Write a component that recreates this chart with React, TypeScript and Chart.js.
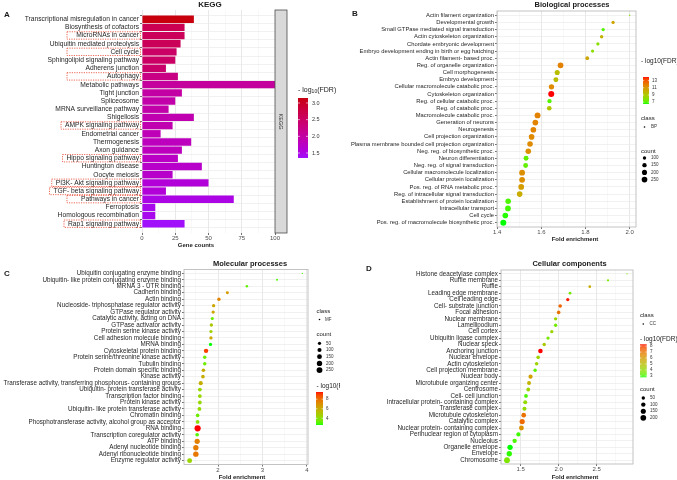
import React, { useEffect, useRef } from "react";
import { Chart, registerables } from "chart.js";

Chart.register(...registerables);

const FONT = "'Liberation Sans', Arial, Helvetica, sans-serif";

// ---------------- Panel A : KEGG ----------------
const keggPathways = [
  "Transcriptional misregulation in cancer",
  "Biosynthesis of cofactors",
  "MicroRNAs in cancer",
  "Ubiquitin mediated proteolysis",
  "Cell cycle",
  "Sphingolipid signaling pathway",
  "Adherens junction",
  "Autophagy",
  "Metabolic pathways",
  "Tight junction",
  "Spliceosome",
  "MRNA surveillance pathway",
  "Shigellosis",
  "AMPK signaling pathway",
  "Endometrial cancer",
  "Thermogenesis",
  "Axon guidance",
  "Hippo signaling pathway",
  "Huntington disease",
  "Oocyte meiosis",
  "PI3K- Akt signaling pathway",
  "TGF- beta signaling pathway",
  "Pathways in cancer",
  "Ferroptosis",
  "Homologous recombination",
  "Rap1 signaling pathway",
];
const keggGeneCounts = [39, 32, 32, 29, 26, 25, 18, 27, 100, 30, 25, 20, 39, 23, 14, 37, 30, 27, 45, 23, 50, 18, 69, 10, 10, 32];
const keggLogFdr = [3.15, 2.65, 2.6, 2.6, 2.5, 2.5, 2.45, 2.25, 2.05, 2.0, 1.95, 1.95, 1.9, 1.9, 1.85, 1.8, 1.8, 1.75, 1.7, 1.7, 1.6, 1.6, 1.5, 1.45, 1.45, 1.35];
const keggHighlighted = [
  "MicroRNAs in cancer",
  "Cell cycle",
  "Autophagy",
  "AMPK signaling pathway",
  "Hippo signaling pathway",
  "PI3K- Akt signaling pathway",
  "TGF- beta signaling pathway",
  "Pathways in cancer",
  "Rap1 signaling pathway",
];
const keggMajorTicks = [0, 25, 50, 75, 100];
const keggMinorTicks = [12.5, 37.5, 62.5, 87.5];
const keggLegendTicks = [1.5, 2.0, 2.5, 3.0];

// ---------------- Panel B : Biological processes ----------------
const bpTerms = [
  "Actin filament organization",
  "Developmental growth",
  "Small GTPase mediated signal transduction",
  "Actin cytoskeleton organization",
  "Chordate embryonic development",
  "Embryo development ending in birth or egg hatching",
  "Actin filament- based proc.",
  "Reg. of organelle organization",
  "Cell morphogenesis",
  "Embryo development",
  "Cellular macromolecule catabolic proc.",
  "Cytoskeleton organization",
  "Reg. of cellular catabolic proc.",
  "Reg. of catabolic proc.",
  "Macromolecule catabolic proc.",
  "Generation of neurons",
  "Neurogenesis",
  "Cell projection organization",
  "Plasma membrane bounded cell projection organization",
  "Neg. reg. of biosynthetic proc.",
  "Neuron differentiation",
  "Neg. reg. of signal transduction",
  "Cellular macromolecule localization",
  "Cellular protein localization",
  "Pos. reg. of RNA metabolic proc.",
  "Reg. of intracellular signal transduction",
  "Establishment of protein localization",
  "Intracellular transport",
  "Cell cycle",
  "Pos. reg. of macromolecule biosynthetic proc.",
];
const bpFold = [2.0, 1.925, 1.88, 1.873, 1.856, 1.832, 1.808, 1.687, 1.672, 1.666, 1.646, 1.645, 1.637, 1.636, 1.583, 1.573, 1.564, 1.556, 1.549, 1.541, 1.531, 1.529, 1.513, 1.513, 1.509, 1.502, 1.45, 1.449, 1.437, 1.428];
const bpLogFdr = [8.0, 10.5, 7.0, 10.0, 8.0, 8.0, 10.5, 11.8, 9.5, 9.5, 11.5, 14.0, 7.0, 9.2, 11.8, 11.7, 11.7, 11.5, 11.5, 11.3, 7.2, 7.2, 11.3, 11.3, 10.8, 10.2, 6.9, 6.8, 6.6, 6.5];
const bpCount = [60, 95, 100, 100, 95, 95, 115, 250, 200, 190, 220, 280, 150, 170, 270, 250, 250, 245, 240, 240, 190, 185, 265, 260, 255, 245, 235, 250, 245, 275];
const bpMajorTicks = [1.4, 1.6, 1.8, 2.0];
const bpMinorTicks = [1.5, 1.7, 1.9];
const bpFdrTicks = [7, 9, 11, 13];
const bpCountTicks = [100, 150, 200, 250];

// ---------------- Panel C : Molecular processes ----------------
const mfTerms = [
  "Ubiquitin conjugating enzyme binding",
  "Ubiquitin- like protein conjugating enzyme binding",
  "MRNA 3 - UTR binding",
  "Cadherin binding",
  "Actin binding",
  "Nucleoside- triphosphatase regulator activity",
  "GTPase regulator activity",
  "Catalytic activity, acting on DNA",
  "GTPase activator activity",
  "Protein serine kinase activity",
  "Cell adhesion molecule binding",
  "MRNA binding",
  "Cytoskeletal protein binding",
  "Protein serine/threonine kinase activity",
  "Tubulin binding",
  "Protein domain specific binding",
  "Kinase activity",
  "Transferase activity, transferring phosphorus- containing groups",
  "Ubiquitin- protein transferase activity",
  "Transcription factor binding",
  "Protein kinase activity",
  "Ubiquitin- like protein transferase activity",
  "Chromatin binding",
  "Phosphotransferase activity, alcohol group as acceptor",
  "RNA binding",
  "Transcription coregulator activity",
  "ATP binding",
  "Adenyl nucleotide binding",
  "Adenyl ribonucleotide binding",
  "Enzyme regulator activity",
];
const mfFold = [3.9, 3.33, 2.65, 2.21, 2.02, 1.9, 1.89, 1.87, 1.85, 1.84, 1.84, 1.83, 1.73, 1.7, 1.7, 1.67, 1.66, 1.61, 1.59, 1.59, 1.59, 1.58, 1.54, 1.54, 1.54, 1.53, 1.53, 1.5, 1.5, 1.36];
const mfLogFdr = [3.0, 3.0, 3.2, 6.6, 7.3, 6.2, 6.2, 3.3, 5.0, 4.5, 6.2, 2.6, 9.0, 3.4, 3.4, 6.0, 6.0, 6.0, 4.3, 4.3, 4.3, 4.2, 3.4, 4.0, 9.5, 3.1, 7.5, 7.6, 7.8, 4.4];
const mfCount = [10, 15, 25, 40, 60, 55, 55, 45, 55, 50, 55, 50, 120, 60, 60, 70, 70, 100, 80, 80, 80, 80, 70, 75, 290, 70, 190, 200, 200, 160];
const mfMajorTicks = [2, 3, 4];
const mfMinorTicks = [1.5, 2.5, 3.5];
const mfFdrTicks = [4, 6, 8];
const mfCountTicks = [50, 100, 150, 200, 250];

// ---------------- Panel D : Cellular components ----------------
const ccTerms = [
  "Histone deacetylase complex",
  "Ruffle membrane",
  "Ruffle",
  "Leading edge membrane",
  "Cell leading edge",
  "Cell- substrate junction",
  "Focal adhesion",
  "Nuclear membrane",
  "Lamellipodium",
  "Cell cortex",
  "Ubiquitin ligase complex",
  "Nuclear speck",
  "Anchoring junction",
  "Nuclear envelope",
  "Actin cytoskeleton",
  "Cell projection membrane",
  "Nuclear body",
  "Microtubule organizing center",
  "Centrosome",
  "Cell- cell junction",
  "Intracellular protein- containing complex",
  "Transferase complex",
  "Microtubule cytoskeleton",
  "Catalytic complex",
  "Nuclear protein- containing complex",
  "Perinuclear region of cytoplasm",
  "Nucleolus",
  "Organelle envelope",
  "Envelope",
  "Chromosome",
];
const ccFold = [2.9, 2.65, 2.41, 2.15, 2.12, 2.02, 2.0, 1.96, 1.96, 1.91, 1.86, 1.81, 1.76, 1.73, 1.71, 1.69, 1.63, 1.61, 1.6, 1.57, 1.56, 1.55, 1.54, 1.52, 1.51, 1.47, 1.42, 1.36, 1.35, 1.32];
const ccLogFdr = [3.5, 3.5, 5.5, 3.5, 8.2, 7.3, 7.0, 4.2, 3.4, 4.2, 3.5, 4.6, 8.3, 4.2, 4.2, 3.2, 5.8, 5.3, 4.2, 3.0, 4.0, 4.0, 7.0, 7.2, 6.2, 2.9, 3.0, 2.7, 2.8, 3.6];
const ccCount = [8, 15, 25, 30, 45, 60, 60, 45, 45, 45, 45, 50, 110, 55, 55, 50, 90, 75, 70, 65, 80, 85, 120, 160, 130, 90, 100, 170, 170, 210];
const ccMajorTicks = [1.5, 2.0, 2.5];
const ccMinorTicks = [1.25, 1.75, 2.25, 2.75];
const ccFdrTicks = [3, 4, 5, 6, 7, 8];
const ccCountTicks = [50, 100, 150, 200];

// ---------------- colour / size helpers ----------------
type RGB = [number, number, number];
const hexRgb = (h: string): RGB => [parseInt(h.slice(1, 3), 16), parseInt(h.slice(3, 5), 16), parseInt(h.slice(5, 7), 16)];
const toLin = (c: number) => { c /= 255; return c <= 0.04045 ? c / 12.92 : Math.pow((c + 0.055) / 1.055, 2.4); };
const fromLin = (c: number) => { const v = c <= 0.0031308 ? 12.92 * c : 1.055 * Math.pow(Math.max(c, 0), 1 / 2.4) - 0.055; return Math.round(Math.min(1, Math.max(0, v)) * 255); };
const XN = 0.95047, YN = 1, ZN = 1.08883;
const fLab = (t: number) => (t > 0.008856 ? Math.cbrt(t) : 7.787 * t + 16 / 116);
const fInv = (t: number) => (t * t * t > 0.008856 ? t * t * t : (t - 16 / 116) / 7.787);
function rgb2lab([r, g, b]: RGB): RGB {
  const R = toLin(r), G = toLin(g), B = toLin(b);
  const X = (0.4124 * R + 0.3576 * G + 0.1805 * B) / XN;
  const Y = (0.2126 * R + 0.7152 * G + 0.0722 * B) / YN;
  const Z = (0.0193 * R + 0.1192 * G + 0.9505 * B) / ZN;
  const fx = fLab(X), fy = fLab(Y), fz = fLab(Z);
  return [116 * fy - 16, 500 * (fx - fy), 200 * (fy - fz)];
}
function lab2rgb([L, a, b]: RGB): RGB {
  const fy = (L + 16) / 116, fx = fy + a / 500, fz = fy - b / 200;
  const X = XN * fInv(fx), Y = YN * fInv(fy), Z = ZN * fInv(fz);
  return [
    fromLin(3.2406 * X - 1.5372 * Y - 0.4986 * Z),
    fromLin(-0.9689 * X + 1.8758 * Y + 0.0415 * Z),
    fromLin(0.0557 * X - 0.204 * Y + 1.057 * Z),
  ];
}
function gradient(low: string, high: string, values: number[]) {
  const lo = rgb2lab(hexRgb(low)), hi = rgb2lab(hexRgb(high));
  const vMin = Math.min(...values), vMax = Math.max(...values);
  const fn = (v: number) => {
    const t = Math.max(0, Math.min(1, (v - vMin) / (vMax - vMin)));
    const c = lab2rgb([lo[0] + (hi[0] - lo[0]) * t, lo[1] + (hi[1] - lo[1]) * t, lo[2] + (hi[2] - lo[2]) * t]);
    return `rgb(${c[0]},${c[1]},${c[2]})`;
  };
  return { fn, vMin, vMax };
}
function sizeScale(values: number[], rMin: number, rMax: number) {
  const cMin = Math.min(...values), cMax = Math.max(...values);
  return (c: number) => rMin + (rMax - rMin) * Math.sqrt(Math.max(0, (c - cMin) / (cMax - cMin)));
}
function expanded(values: number[]) {
  const mn = Math.min(...values), mx = Math.max(...values);
  const pad = (mx - mn) * 0.05;
  return [mn - pad, mx + pad];
}

function text(ctx: any, s: string, x: number, y: number, size: number, o: any = {}) {
  ctx.save();
  ctx.font = `${o.bold ? "bold " : ""}${size}px ${FONT}`;
  ctx.fillStyle = o.color || "#1a1a1a";
  ctx.textAlign = o.align || "left";
  ctx.textBaseline = o.baseline || "middle";
  ctx.fillText(s, x, y);
  ctx.restore();
}
function colorBar(ctx: any, x: number, y: number, w: number, h: number, g: any, ticks: number[], labelX: number, fmt: (v: number) => string, fs: number) {
  ctx.save();
  const n = Math.round(h);
  for (let i = 0; i < n; i++) {
    const v = g.vMax - ((i + 0.5) / n) * (g.vMax - g.vMin);
    ctx.fillStyle = g.fn(v);
    ctx.fillRect(x, y + i, w, 1);
  }
  ticks.forEach((t) => {
    const ty = y + ((g.vMax - t) / (g.vMax - g.vMin)) * h;
    ctx.strokeStyle = "#ffffff";
    ctx.lineWidth = 0.6;
    ctx.beginPath();
    ctx.moveTo(x, ty); ctx.lineTo(x + w * 0.2, ty);
    ctx.moveTo(x + w * 0.8, ty); ctx.lineTo(x + w, ty);
    ctx.stroke();
    text(ctx, fmt(t), labelX, ty, fs, { color: "#333" });
  });
  ctx.restore();
}
function dot(ctx: any, x: number, y: number, r: number, color = "#000") {
  ctx.save();
  ctx.fillStyle = color;
  ctx.beginPath();
  ctx.arc(x, y, r, 0, Math.PI * 2);
  ctx.fill();
  ctx.restore();
}

// ---------------- axis builders ----------------
function xAxis(min: number, max: number, majors: number[], minors: number[], fmt: (v: number) => string, height: number) {
  const all = [...majors, ...minors].filter((v) => v >= min - 1e-9 && v <= max + 1e-9).sort((a, b) => a - b);
  const isMajor = (v: number) => majors.some((m) => Math.abs(m - v) < 1e-9);
  return {
    type: "linear",
    position: "bottom",
    min,
    max,
    afterBuildTicks: (s: any) => { s.ticks = all.map((v) => ({ value: v })); },
    afterFit: (s: any) => { s.height = height; },
    ticks: {
      autoSkip: false, maxRotation: 0, minRotation: 0, padding: 0, color: "#4d4d4d",
      font: { size: 6, family: FONT },
      callback: (v: any) => (isMajor(v) ? fmt(v) : ""),
    },
    grid: {
      drawTicks: true, tickLength: 2,
      color: (c: any) => (c.tick && isMajor(c.tick.value) ? "#e2e2e2" : "#f0f0f0"),
      lineWidth: (c: any) => (c.tick && isMajor(c.tick.value) ? 0.8 : 0.5),
      tickColor: (c: any) => (c.tick && isMajor(c.tick.value) ? "#333333" : "rgba(0,0,0,0)"),
      tickWidth: 0.7,
    },
    border: { display: false },
  };
}
function yAxis(labels: string[], width: number, fontSize: number) {
  return {
    type: "linear",
    reverse: true,
    min: -0.6,
    max: labels.length - 0.4,
    afterBuildTicks: (s: any) => { s.ticks = labels.map((_, i) => ({ value: i })); },
    afterFit: (s: any) => { s.width = width; },
    ticks: {
      autoSkip: false, padding: 1, color: "#262626",
      font: { size: fontSize, family: FONT },
      callback: (v: any) => labels[Math.round(v)] ?? "",
    },
    grid: { drawTicks: true, tickLength: 2, color: "#e8e8e8", lineWidth: 0.6, tickColor: "#333333", tickWidth: 0.7 },
    border: { display: false },
  };
}
const baseOptions = (padRight: number, padTop: number) => ({
  animation: false,
  responsive: false,
  events: [],
  layout: { autoPadding: false, padding: { left: 0, right: padRight, top: padTop, bottom: 0 } },
  plugins: { legend: { display: false }, title: { display: false }, tooltip: { enabled: false } },
});

function frame(ctx: any, a: any, color: string) {
  ctx.save();
  ctx.strokeStyle = color;
  ctx.lineWidth = 0.8;
  ctx.strokeRect(a.left, a.top, a.right - a.left, a.bottom - a.top);
  ctx.restore();
}

// ---------------- Panel A ----------------
function buildKegg() {
  const W = 340, H = 250;
  const area = { left: 142, right: 275, top: 10, bottom: 233 };
  const g = gradient("#A010FA", "#C8000E", keggLogFdr);
  const labelSize = 6.7;
  return {
    type: "bar",
    data: {
      datasets: [{
        data: keggPathways.map((_, i) => ({ x: keggGeneCounts[i], y: i })),
        backgroundColor: keggLogFdr.map(g.fn),
        borderWidth: 0,
        barPercentage: 0.9,
        categoryPercentage: 1,
      }],
    },
    options: {
      ...baseOptions(W - area.right, area.top),
      indexAxis: "y",
      scales: {
        x: xAxis(0, 100, keggMajorTicks, keggMinorTicks, (v) => String(v), H - area.bottom),
        y: yAxis(keggPathways, area.left, labelSize),
      },
    },
    plugins: [{
      id: "keggExtras",
      afterDraw: (chart: any) => {
        const ctx = chart.ctx, a = chart.chartArea, ys = chart.scales.y;
        // strip
        ctx.save();
        ctx.fillStyle = "#d9d9d9";
        ctx.fillRect(a.right, a.top, 12, a.bottom - a.top);
        ctx.strokeStyle = "#4d4d4d";
        ctx.lineWidth = 0.8;
        ctx.strokeRect(a.right, a.top, 12, a.bottom - a.top);
        ctx.restore();
        ctx.save();
        ctx.translate(a.right + 6, (a.top + a.bottom) / 2);
        ctx.rotate(Math.PI / 2);
        text(ctx, "KEGG", 0, 0, 5.5, { align: "center", color: "#333" });
        ctx.restore();
        // highlight boxes
        const rowH = Math.abs(ys.getPixelForValue(1) - ys.getPixelForValue(0));
        const textRight = a.left - 3;
        ctx.save();
        ctx.font = `${labelSize}px ${FONT}`;
        ctx.strokeStyle = "#E8402A";
        ctx.lineWidth = 0.8;
        ctx.setLineDash([1.2, 1.2]);
        keggHighlighted.forEach((name) => {
          const i = keggPathways.indexOf(name);
          if (i < 0) return;
          const yc = ys.getPixelForValue(i);
          const w = ctx.measureText(name).width;
          const x0 = Math.min(textRight - w - 4, textRight - 72);
          const x1 = textRight + 1.5;
          ctx.strokeRect(x0, yc - rowH / 2 + 0.3, x1 - x0, rowH - 0.8);
        });
        ctx.restore();
        // titles
        text(ctx, "KEGG", 210, 5, 8, { bold: true, align: "center" });
        text(ctx, "A", 7, 15, 8, { bold: true, align: "center" });
        text(ctx, "Gene counts", 196, 245, 6, { bold: true, align: "center" });
        // legend
        ctx.save();
        let x = 298;
        ctx.fillStyle = "#1a1a1a";
        ctx.textBaseline = "middle";
        ctx.font = `7px ${FONT}`;
        ctx.fillText("- log", x, 90);
        x += ctx.measureText("- log").width;
        ctx.font = `5px ${FONT}`;
        ctx.fillText("10", x, 92);
        x += ctx.measureText("10").width;
        ctx.font = `7px ${FONT}`;
        ctx.fillText("(FDR)", x, 90);
        ctx.restore();
        colorBar(ctx, 298, 98, 10, 60, g, keggLegendTicks, 312, (v) => v.toFixed(1), 5.5);
      },
    }],
  };
}

// ---------------- dot panels ----------------
function dotChart(p: any) {
  const [xMin, xMax] = expanded(p.fold);
  const g = gradient("#00FF00", "#FF0000", p.fdr);
  const rOf = sizeScale(p.count, 0.7, p.rMax);
  return {
    type: "bubble",
    data: {
      datasets: [{
        data: p.terms.map((_: string, i: number) => ({ x: p.fold[i], y: i, r: rOf(p.count[i]) })),
        backgroundColor: p.fdr.map(g.fn),
        borderWidth: 0,
        hoverBorderWidth: 0,
        clip: false,
      }],
    },
    options: {
      ...baseOptions(p.W - p.area.right, p.area.top),
      scales: {
        x: xAxis(xMin, xMax, p.majors, p.minors, p.fmt, p.H - p.area.bottom),
        y: yAxis(p.terms, p.area.left, p.labelSize),
      },
    },
    plugins: [{
      id: "dotExtras",
      afterDraw: (chart: any) => {
        const ctx = chart.ctx, a = chart.chartArea;
        frame(ctx, a, "#b5b5b5");
        p.extras(ctx, a, g, rOf);
      },
    }],
  };
}

function buildBP() {
  return dotChart({
    W: 337, H: 250, area: { left: 157, right: 296, top: 11, bottom: 227 },
    terms: bpTerms, fold: bpFold, fdr: bpLogFdr, count: bpCount,
    majors: bpMajorTicks, minors: bpMinorTicks, fmt: (v: number) => v.toFixed(1),
    labelSize: 5.8, rMax: 3.0,
    extras: (ctx: any, a: any, g: any, rOf: any) => {
      text(ctx, "Biological processes", 232, 5, 7.5, { bold: true, align: "center" });
      text(ctx, "B", 15, 14, 8, { bold: true, align: "center" });
      text(ctx, "Fold enrichment", 235, 239, 6, { bold: true, align: "center" });
      text(ctx, "- log10(FDR)", 301, 61, 6.5);
      colorBar(ctx, 303, 77, 6, 27, g, bpFdrTicks, 312, (v) => String(v), 4.5);
      text(ctx, "class", 301, 118, 6);
      dot(ctx, 304.5, 127, 0.8);
      text(ctx, "BP", 311, 127, 4.5, { color: "#333" });
      text(ctx, "count", 301, 151, 6);
      bpCountTicks.forEach((c, i) => {
        const y = 158 + i * 7.2;
        dot(ctx, 304.5, y, rOf(c));
        text(ctx, String(c), 311, y, 4.5, { color: "#333" });
      });
    },
  });
}

function buildMF() {
  return dotChart({
    W: 340, H: 230, area: { left: 184, right: 308, top: 19.5, bottom: 214.5 },
    terms: mfTerms, fold: mfFold, fdr: mfLogFdr, count: mfCount,
    majors: mfMajorTicks, minors: mfMinorTicks, fmt: (v: number) => String(v),
    labelSize: 6.3, rMax: 3.1,
    extras: (ctx: any, a: any, g: any, rOf: any) => {
      text(ctx, "Molecular processes", 250, 14, 7.5, { bold: true, align: "center" });
      text(ctx, "C", 7, 24, 8, { bold: true, align: "center" });
      text(ctx, "Fold enrichment", 242, 227, 6, { bold: true, align: "center" });
      text(ctx, "class", 316.5, 61, 6);
      dot(ctx, 319.5, 69.5, 0.8);
      text(ctx, "MF", 325, 69.5, 4.5, { color: "#333" });
      text(ctx, "count", 316.5, 84, 6);
      mfCountTicks.forEach((c, i) => {
        const y = 93.3 + i * 6.7;
        dot(ctx, 319.5, y, rOf(c));
        text(ctx, String(c), 326, y, 4.5, { color: "#333" });
      });
      text(ctx, "- log10(FDR)", 316.5, 136, 6.5);
      colorBar(ctx, 316, 142, 7, 33, g, mfFdrTicks, 326, (v) => String(v), 4.5);
    },
  });
}

function buildCC() {
  return dotChart({
    W: 337, H: 230, area: { left: 161, right: 293, top: 20, bottom: 214 },
    terms: ccTerms, fold: ccFold, fdr: ccLogFdr, count: ccCount,
    majors: ccMajorTicks, minors: ccMinorTicks, fmt: (v: number) => v.toFixed(1),
    labelSize: 6.3, rMax: 2.9,
    extras: (ctx: any, a: any, g: any, rOf: any) => {
      text(ctx, "Cellular components", 229.5, 14, 7.5, { bold: true, align: "center" });
      text(ctx, "D", 29, 19, 8, { bold: true, align: "center" });
      text(ctx, "Fold enrichment", 235, 227, 6, { bold: true, align: "center" });
      text(ctx, "class", 300, 65, 6);
      dot(ctx, 303.3, 74, 0.8);
      text(ctx, "CC", 309.5, 74, 4.5, { color: "#333" });
      text(ctx, "- log10(FDR)", 300, 89, 6.5);
      colorBar(ctx, 300, 94.3, 6.7, 33.4, g, ccFdrTicks, 310, (v) => String(v), 4.5);
      text(ctx, "count", 300, 139, 6);
      ccCountTicks.forEach((c, i) => {
        const y = 148 + i * 6.6;
        dot(ctx, 303.3, y, rOf(c));
        text(ctx, String(c), 310, y, 4.5, { color: "#333" });
      });
    },
  });
}

function ChartBox({ left, top, width, height, build }: any) {
  const ref = useRef<HTMLCanvasElement | null>(null);
  useEffect(() => {
    if (!ref.current) return;
    const chart = new Chart(ref.current, build() as any);
    return () => chart.destroy();
  }, [build]);
  return (
    <canvas
      ref={ref}
      width={width}
      height={height}
      style={{ position: "absolute", left, top, width, height, display: "block" }}
    />
  );
}

export default function App() {
  return (
    <div style={{ position: "fixed", left: 0, top: 0, width: 677, height: 480, background: "#ffffff", overflow: "hidden" }}>
      <ChartBox left={0} top={0} width={340} height={250} build={buildKegg} />
      <ChartBox left={340} top={0} width={337} height={250} build={buildBP} />
      <ChartBox left={0} top={250} width={340} height={230} build={buildMF} />
      <ChartBox left={340} top={250} width={337} height={230} build={buildCC} />
    </div>
  );
}
